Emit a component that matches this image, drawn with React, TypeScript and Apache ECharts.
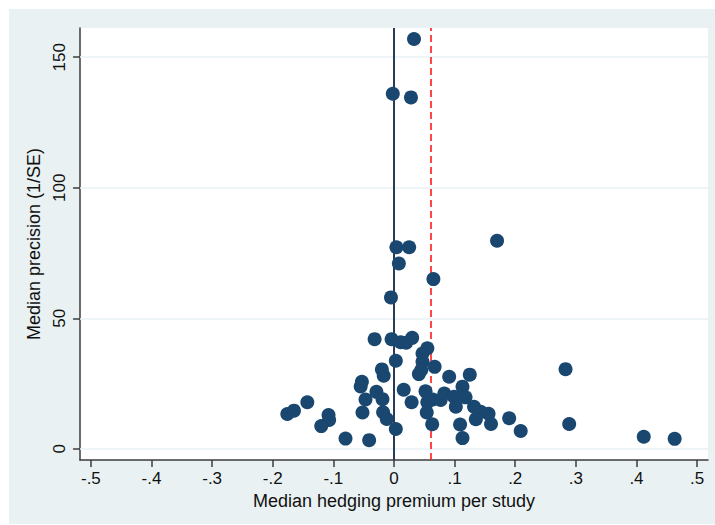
import React, { useEffect, useRef } from "react";
import * as echarts from "echarts";

// Median hedging premium per study (x) and median precision 1/SE (y)
const premium: number[] = [
  0.033, -0.002, 0.028, 0.17, 0.004, 0.025, 0.008, 0.065, -0.005,
  -0.032, -0.004, 0.011, 0.02, 0.03, 0.047, 0.055, 0.003, 0.047, 0.067,
  0.041, 0.045, -0.02, -0.017, -0.053, -0.055, -0.029, -0.047, -0.019,
  -0.052, -0.018, -0.012, 0.003, -0.08, -0.041, 0.016, 0.029, 0.052,
  0.055, 0.054, 0.063, 0.064, 0.077, 0.083, 0.091, 0.125, 0.113, 0.099,
  0.118, 0.102, 0.132, 0.143, 0.156, 0.135, 0.16, 0.109, 0.113, 0.19,
  0.209, -0.143, -0.176, -0.165, -0.108, -0.107, -0.12, 0.283, 0.289,
  0.412, 0.463,
];
const precision: number[] = [
  157, 136, 134.6, 79.7, 77.2, 77.2, 71, 65, 58,
  42, 42, 40.8, 40.6, 42.5, 36.5, 38.5, 33.7, 33.3, 31.4,
  28.6, 30.2, 30.4, 28, 25.7, 23.9, 21.8, 18.9, 19,
  13.9, 14, 11.4, 7.6, 3.9, 3.3, 22.6, 17.8, 22,
  17.8, 13.9, 9.4, 18.9, 18.7, 21.2, 27.6, 28.4, 23.8, 19.9,
  19.7, 16.1, 16.1, 14.2, 13.4, 11.3, 9.5, 9.3, 4.1, 11.7,
  6.8, 17.8, 13.3, 14.6, 12.9, 11, 8.7, 30.5, 9.5,
  4.6, 3.8,
];

const xTicks: number[] = [-0.5, -0.4, -0.3, -0.2, -0.1, 0, 0.1, 0.2, 0.3, 0.4, 0.5];
const yTicks: number[] = [0, 50, 100, 150];
const meanPremium = 0.061;

const FONT = "'Liberation Sans', Arial, Helvetica, sans-serif";

function fmtX(v: number): string {
  if (Math.abs(v) < 1e-9) return "0";
  const s = Math.abs(v).toFixed(1).replace(/^0/, "");
  return (v < 0 ? "-" : "") + s;
}

export default function App() {
  const ref = useRef<HTMLDivElement>(null);

  useEffect(() => {
    document.body.style.margin = "0";
    if (!ref.current) return;
    const chart = echarts.init(ref.current, undefined, { renderer: "svg" });
    const points = premium.map((p, i) => [p, precision[i]]);

    chart.setOption({
      animation: false,
      grid: {
        left: 71,
        top: 19,
        right: 7,
        bottom: 64,
        show: true,
        backgroundColor: "#ffffff",
        borderWidth: 0,
      },
      xAxis: {
        type: "value",
        min: -0.518,
        max: 0.518,
        name: "Median hedging premium per study",
        nameLocation: "middle",
        nameGap: 28,
        nameTextStyle: { fontFamily: FONT, fontSize: 18, color: "#111" },
        axisLine: { show: true, onZero: false, lineStyle: { color: "#3c3c3c", width: 1.5 } },
        axisTick: {
          show: true,
          length: 7,
          customValues: xTicks,
          lineStyle: { color: "#3c3c3c", width: 1.5 },
        },
        axisLabel: {
          show: true,
          customValues: xTicks,
          margin: 10,
          formatter: (v: number) => fmtX(v),
          fontFamily: FONT,
          fontSize: 17,
          color: "#111",
        },
        splitLine: { show: false },
      },
      yAxis: {
        type: "value",
        min: -4.3,
        max: 161.2,
        name: "Median precision (1/SE)",
        nameLocation: "middle",
        nameGap: 29,
        nameTextStyle: { fontFamily: FONT, fontSize: 18, color: "#111" },
        axisLine: { show: true, onZero: false, lineStyle: { color: "#3c3c3c", width: 1.5 } },
        axisTick: {
          show: true,
          length: 7,
          customValues: yTicks,
          lineStyle: { color: "#3c3c3c", width: 1.5 },
        },
        axisLabel: {
          show: true,
          customValues: yTicks,
          rotate: 90,
          margin: 12,
          fontFamily: FONT,
          fontSize: 17,
          color: "#111",
        },
        splitLine: { show: false },
      },
      series: [
        {
          type: "line",
          data: [],
          z: 1,
          silent: true,
          markLine: {
            z: 1,
            silent: true,
            symbol: ["none", "none"],
            label: { show: false },
            data: [
              ...yTicks.map((v) => ({
                yAxis: v,
                lineStyle: { color: "#eaf1f3", width: 1.5, type: "solid" },
              })),
              { xAxis: 0, lineStyle: { color: "#2a3b57", width: 2, type: "solid" } },
              {
                xAxis: meanPremium,
                lineStyle: { color: "#ff1a1a", width: 1.6, type: [7, 4] },
              },
            ],
          },
        },
        {
          type: "scatter",
          z: 3,
          data: points,
          symbol: "circle",
          symbolSize: 14,
          itemStyle: { color: "#1a476f", opacity: 1 },
        },
      ],
    });

    return () => chart.dispose();
  }, []);

  return (
    <div style={{ width: 715, height: 525, background: "#ffffff", position: "relative" }}>
      <div
        ref={ref}
        style={{
          position: "absolute",
          left: 9,
          top: 9,
          width: 706,
          height: 515,
          background: "#eaf1f3",
        }}
      />
    </div>
  );
}
